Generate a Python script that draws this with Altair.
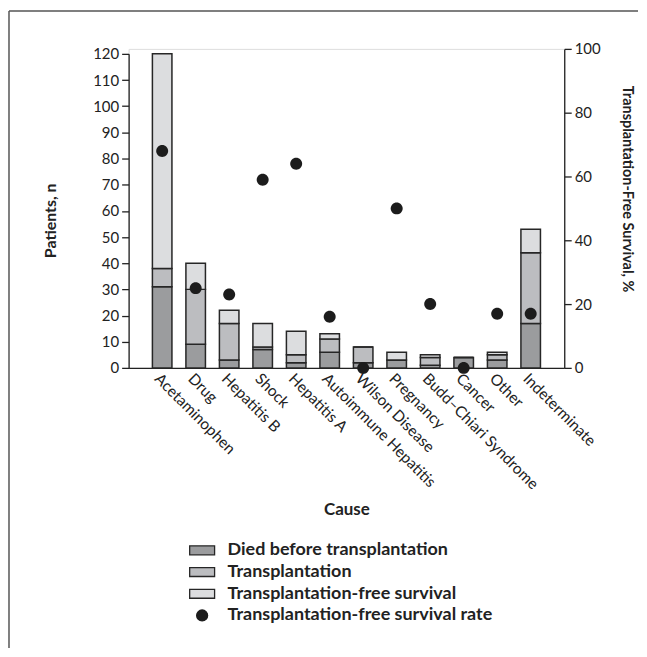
import altair as alt
import pandas as pd

causes = ["Acetaminophen", "Drug", "Hepatitis B", "Shock", "Hepatitis A",
          "Autoimmune Hepatitis", "Wilson Disease", "Pregnancy",
          "Budd\u2013Chiari Syndrome", "Cancer", "Other", "Indeterminate"]
died = [31, 9, 3, 7, 2, 6, 2, 3, 1, 4, 3, 17]
transplant = [7, 21, 14, 1, 3, 5, 6, 0, 3, 0, 2, 27]
tfs = [82, 10, 5, 9, 9, 2, 0, 3, 1, 0, 1, 9]
rate = [68, 25, 23, 59, 64, 16, 0, 50, 20, 0, 17, 17]

series = ["Died before transplantation", "Transplantation",
          "Transplantation-free survival", "Transplantation-free survival rate"]
colors = ["#9b9c9e", "#bcbdc0", "#dcdddf", "#1c1c1c"]
outline = ["#262626", "#262626", "#262626", "#1c1c1c"]
rect_path = "M-1.25,-0.45H1.25V0.45H-1.25Z"
circ_path = "M-0.55,0A0.55,0.55 0 1,0 0.55,0A0.55,0.55 0 1,0 -0.55,0Z"

rows = []
for i, c in enumerate(causes):
    for k, vals in enumerate([died, transplant, tfs]):
        rows.append({"cause": c, "series": series[k], "n": vals[i], "idx": k})
bars_df = pd.DataFrame(rows)
rate_df = pd.DataFrame({"cause": causes, "rate": rate, "series": series[3]})

FONT = "Lato"
INK = "#222222"

x_enc = alt.X("cause:N", sort=causes,
              scale=alt.Scale(paddingInner=0.417, paddingOuter=0.71),
              axis=alt.Axis(title="Cause", labelAngle=45, labelAlign="left",
                            labelBaseline="top", labelPadding=3, ticks=False,
                            labelFontSize=15.5, titleFontSize=17, titlePadding=9))

legend = alt.Legend(title=None, orient="none", legendX=62.75, legendY=492,
                    direction="vertical", symbolSize=400, labelFontSize=18,
                    labelFontWeight="bold", labelLimit=0, symbolStrokeWidth=1.3,
                    rowPadding=1.8, labelOffset=14.5, padding=0, symbolOpacity=1)

color_scale = alt.Scale(domain=series, range=colors)
stroke_scale = alt.Scale(domain=series, range=outline)

bars = alt.Chart(bars_df).mark_bar(strokeWidth=1.5, opacity=1).encode(
    x=x_enc,
    y=alt.Y("n:Q", stack="zero",
            scale=alt.Scale(domain=[0, 120], range=[320, 5], nice=False),
            axis=alt.Axis(title="Patients, n", values=list(range(0, 121, 10)),
                          tickSize=7, labelPadding=3, labelFontSize=15,
                          titleFontSize=16, titleX=-78, titleY=172,
                          titleBaseline="middle", grid=False)),
    color=alt.Color("series:N", scale=color_scale, legend=legend),
    stroke=alt.Stroke("series:N", scale=stroke_scale, legend=legend),
    order=alt.Order("idx:Q"),
)

points = alt.Chart(rate_df).mark_point(filled=True, opacity=1, size=476,
                                       strokeWidth=0).encode(
    x=x_enc,
    y=alt.Y("rate:Q", scale=alt.Scale(domain=[0, 100], nice=False),
            axis=alt.Axis(orient="right", title="Transplantation-Free Survival, %",
                          values=list(range(0, 101, 20)), tickSize=7, labelPadding=3,
                          labelFontSize=15, titleFontSize=14.5, titleX=62, titleY=140,
                          titleBaseline="middle", grid=False)),
    color=alt.Color("series:N", scale=color_scale, legend=legend),
    shape=alt.Shape("series:N",
                    scale=alt.Scale(domain=series,
                                    range=[rect_path, rect_path, rect_path, circ_path]),
                    legend=legend),
)

one = pd.DataFrame({"a": [0]})
frame_top = alt.Chart(one).mark_rule(color="#555555", strokeWidth=1.5).encode(
    x=alt.value(-120), x2=alt.value(511), y=alt.value(-38))
frame_left = alt.Chart(one).mark_rule(color="#555555", strokeWidth=1.5).encode(
    x=alt.value(-120), y=alt.value(-38), y2=alt.value(601))

chart = alt.layer(bars, points, frame_top, frame_left).resolve_scale(
    y="independent"
).properties(
    width=437, height=320,
    padding={"left": 0, "top": 1, "right": 0, "bottom": 0},
).configure_view(stroke=None).configure(
    font=FONT
).configure_axis(
    labelColor=INK, titleColor=INK, domainColor=INK, tickColor=INK,
    labelFont=FONT, titleFont=FONT, titleFontWeight="bold", domainWidth=1.3,
    tickWidth=1.3
).configure_legend(labelColor=INK, labelFont=FONT)

chart.save("out.html", embed_options={"renderer": "svg", "actions": False})
